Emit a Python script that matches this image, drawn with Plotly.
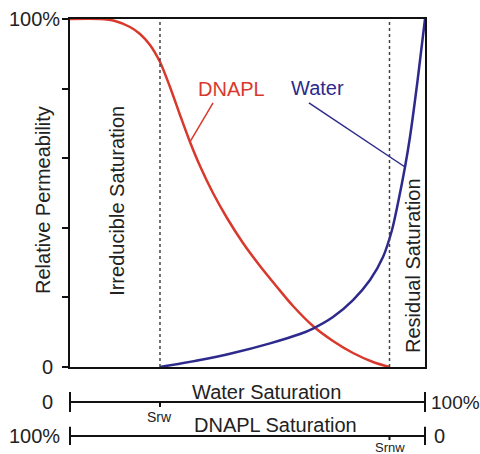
import plotly.graph_objects as go

# ---- data ----
dnapl_x = [0, 8.45, 12.68, 16.90, 19.72, 22.54, 25.35, 28.17, 30.99, 33.80, 36.62, 40.28, 44.23,
           48.73, 53.52, 58.31, 62.82, 68.45, 74.08, 79.72, 85.35, 90.0]
dnapl_y = [1.0, 1.0, 0.9943, 0.9770, 0.9569, 0.9253, 0.8764, 0.8046, 0.7241, 0.6466, 0.5776, 0.500,
           0.4282, 0.3563, 0.2902, 0.2299, 0.1753, 0.1178, 0.0747, 0.0402, 0.0144, 0.0]

water_x = [25.35, 36.62, 45.92, 56.34, 64.79, 68.45, 74.08, 79.72, 84.51, 88.17, 90.70, 92.39,
           94.37, 95.77, 97.89, 100.0]
water_y = [0.0, 0.0201, 0.0402, 0.0680, 0.0948, 0.1106, 0.1437, 0.1925, 0.25, 0.3161, 0.3937, 0.4713,
           0.5747, 0.6609, 0.8218, 1.0]

srw = 25.35
srnw = 90.0

y_tickvals = [0, 0.2, 0.4, 0.6, 0.8, 1.0]
y_labels = {0: "0", 1.0: "100%"}

RED = "#d8392c"
BLUE = "#2d2a8c"
FONT = "Liberation Sans, Arial, sans-serif"

fig = go.Figure()
fig.add_trace(go.Scatter(x=dnapl_x, y=dnapl_y, mode="lines",
                         line=dict(color=RED, width=2.5, shape="spline", smoothing=0.8),
                         hoverinfo="skip", showlegend=False))
fig.add_trace(go.Scatter(x=water_x, y=water_y, mode="lines",
                         line=dict(color=BLUE, width=2.5, shape="spline", smoothing=0.8),
                         hoverinfo="skip", showlegend=False))

shapes = []
for xv in (srw, srnw):
    shapes.append(dict(type="line", xref="x", yref="y", x0=xv, x1=xv, y0=0, y1=1,
                       line=dict(color="#444", width=1.5, dash="dot")))
# pointer lines
shapes.append(dict(type="line", xref="x", yref="y", x0=40.3, y0=0.759, x1=dnapl_x[9], y1=dnapl_y[9],
                   line=dict(color=RED, width=1.5)))
shapes.append(dict(type="line", xref="x", yref="y", x0=67.3, y0=0.759, x1=water_x[12], y1=water_y[12],
                   line=dict(color=BLUE, width=1.5)))

def hline(y):
    shapes.append(dict(type="line", xref="paper", yref="paper", x0=0, x1=1, y0=y, y1=y,
                       line=dict(color="#111", width=2)))
def vline(xref, x, y0, y1):
    shapes.append(dict(type="line", xref=xref, yref="paper", x0=x, x1=x, y0=y0, y1=y1,
                       line=dict(color="#111", width=2)))

hline(-0.1006)
vline("paper", 0, -0.072, -0.129)
vline("paper", 1, -0.072, -0.129)
vline("x", srw, -0.1006, -0.115)
hline(-0.198)
vline("paper", 0, -0.172, -0.224)
vline("paper", 1, -0.172, -0.224)
vline("x", srnw, -0.198, -0.2098)

ann = []
def text(x, y, s, xref="x", yref="y", size=20, color="#222", angle=0, xanchor="center", yanchor="middle"):
    ann.append(dict(x=x, y=y, xref=xref, yref=yref, text=s, showarrow=False,
                    font=dict(family=FONT, size=size, color=color), textangle=angle,
                    xanchor=xanchor, yanchor=yanchor))

text(45.4, 0.799, "DNAPL", color=RED)
text(69.6, 0.802, "Water", color=BLUE)
text(13.2, 0.477, "Irreducible Saturation", angle=-90)
text(96.6, 0.293, "Residual Saturation", angle=-90)
text(-0.076, 0.48, "Relative Permeability", xref="paper", yref="paper", angle=-90)

# y-axis end labels
text(-0.0225, 1.0, y_labels[1.0], xref="paper", xanchor="right")
text(-0.042, 0.0, y_labels[0], xref="paper", xanchor="right")

text(0.553, -0.072, "Water Saturation", xref="paper", yref="paper")
text(0.578, -0.167, "DNAPL Saturation", xref="paper", yref="paper")
text(srw, -0.144, "Srw", yref="paper", size=14)
text(srnw, -0.2040, "Srnw", yref="paper", size=13, yanchor="top")
text(-0.042, -0.1006, "0", xref="paper", yref="paper", xanchor="right")
text(1.011, -0.1006, "100%", xref="paper", yref="paper", xanchor="left", size=19)
text(-0.0225, -0.198, "100%", xref="paper", yref="paper", xanchor="right")
text(1.02, -0.198, "0", xref="paper", yref="paper", xanchor="left")

fig.update_layout(
    width=480, height=454,
    margin=dict(l=70, r=55, t=19, b=87),
    paper_bgcolor="white", plot_bgcolor="white",
    shapes=shapes, annotations=ann,
    font=dict(family=FONT, size=20, color="#222"),
    xaxis=dict(range=[0, 100], showgrid=False, zeroline=False, showticklabels=False,
               ticks="", showline=True, linecolor="#111", linewidth=2, mirror=True),
    yaxis=dict(range=[0, 1], showgrid=False, zeroline=False,
               tickvals=y_tickvals, showticklabels=False, ticks="outside", ticklen=6,
               tickwidth=2, tickcolor="#111",
               showline=True, linecolor="#111", linewidth=2, mirror=True),
)

fig.write_html("out.html")
